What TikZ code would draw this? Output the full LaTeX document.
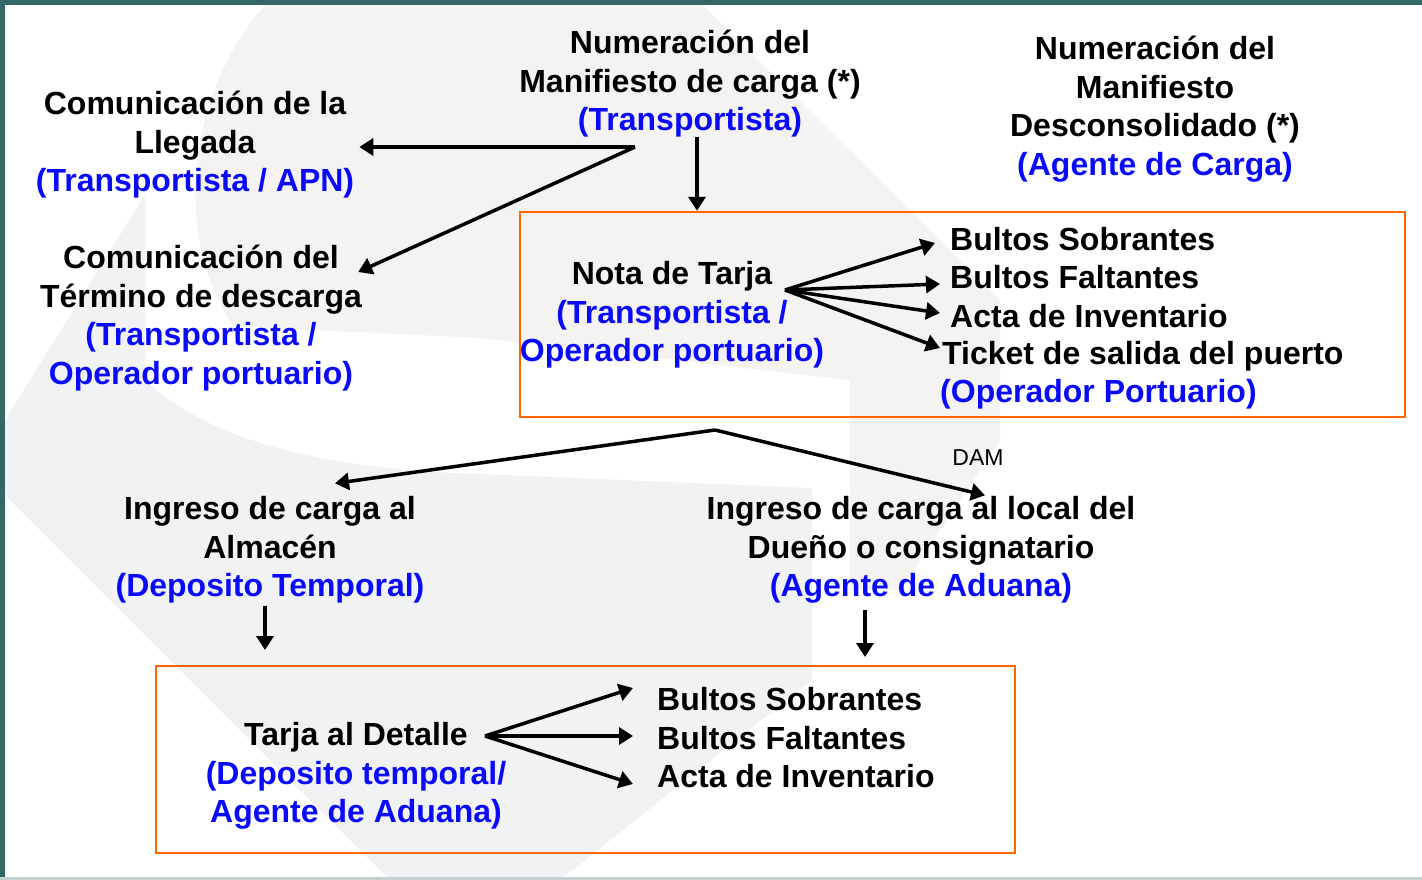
\documentclass[tikz,border=0pt]{standalone}
\usepackage{fontspec}
\setmainfont{Liberation Sans}
\usetikzlibrary{arrows.meta}
\definecolor{marco}{RGB}{52,104,104}
\definecolor{naranja}{RGB}{255,102,0}
\definecolor{quien}{RGB}{10,10,250}
\definecolor{fondo}{RGB}{245,242,242}
\definecolor{fondogris}{RGB}{241,242,244}
\tikzset{
paso/.style={font=\fontsize{32}{38.5}\selectfont\bfseries, align=center, inner sep=0pt},
lista/.style={font=\fontsize{32}{38.5}\selectfont\bfseries, anchor=west, inner sep=0pt},
caja/.style={draw=naranja, line width=2.5pt, inner sep=0pt},
flecha/.style={line width=3.5pt, -{Triangle[length=14pt,width=17pt]}}
}
\newcommand{\quien}[1]{\textcolor{quien}{#1}}

\begin{document}
\begin{tikzpicture}[x=1pt, y=-1pt]
	\useasboundingbox (0,0) rectangle (1422,880);
	% fondo y marco
	\fill[fondo] (265,5) -- (703,5) -- (1000,300) -- (1000,440) -- (900,590) -- (850,590)
		-- (850,380) -- (480,338) -- (233,326) .. controls (170,230) and (190,90) .. (265,5);
	\fill[fondogris] (145,195) -- (145,380) .. controls (220,450) and (350,470) .. (480,474)
		-- (812,488) -- (812,680) -- (560,880) -- (390,880) -- (5,495) -- (5,420) -- cycle;
	\fill[marco] (0,0) rectangle (1422,5);
	\fill[marco] (0,0) rectangle (5,880);
	\fill[marco!30] (0,877) rectangle (1422,880);

	% parte superior
	\node[paso] (manif) at (690,84) {Numeración del\\Manifiesto de carga (*)\\\quien{(Transportista)}};
	\node[paso] (descon) at (1155,109) {Numeración del\\Manifiesto\\Desconsolidado (*)\\\quien{(Agente de Carga)}};
	\node[paso] (llegada) at (195,145) {Comunicación de la\\Llegada\\\quien{(Transportista / APN)}};
	\node[paso] (termino) at (201,318) {Comunicación del\\Término de descarga\\\quien{(Transportista /}\\\quien{Operador portuario)}};
	\coordinate (abre) at (635,147);
	\draw[flecha] (abre) -- ([xshift=5pt,yshift=-2pt]llegada.east);
	\draw[flecha] (abre) -- ([xshift=-4pt,yshift=46pt]termino.east);

	% nota de tarja
	\node[caja, minimum width=885pt, minimum height=205pt] (caja1) at (962.5,314.5) {};
	\draw[flecha] ([xshift=7pt,yshift=-53pt]manif.center) -- ([xshift=7pt]manif.center |- caja1.north);
	\node[paso] (nota) at (672,315) {Nota de Tarja\\\quien{(Transportista /}\\\quien{Operador portuario)}};
	\node[lista] (sob1) at (950,239) {Bultos Sobrantes};
	\node[lista] (fal1) at (950,277) {Bultos Faltantes};
	\node[lista] (acta1) at (950,316) {Acta de Inventario};
	\node[lista] (tick) at (942,356) {Ticket de salida del puerto};
	\node[lista] (oper) at (940,394) {\quien{(Operador Portuario)}};
	\coordinate (abanico1) at (785,290);
	\draw[flecha] (abanico1) -- ([xshift=-15pt,yshift=-4pt]sob1.west);
	\draw[flecha] (abanico1) -- ([xshift=-10pt,yshift=-7pt]fal1.west);
	\draw[flecha] (abanico1) -- ([xshift=-10pt,yshift=3pt]acta1.west);
	\draw[flecha] (abanico1) -- ([xshift=-2pt,yshift=8pt]tick.west);

	% ingreso de carga
	\node[paso] (almacen) at (270,550) {Ingreso de carga al\\Almacén\\\quien{(Deposito Temporal)}};
	\node[paso] (local) at (921,550) {Ingreso de carga al local del\\Dueño o consignatario\\\quien{(Agente de Aduana)}};
	\node[font=\fontsize{23}{26}\selectfont] (dam) at (978,458) {DAM};
	\coordinate (pico) at (715,430);
	\draw[flecha] (pico) -- ([xshift=65pt,yshift=13pt]almacen.north);
	\draw[flecha] (pico) -- ([xshift=64pt,yshift=1pt]local.north);
	\coordinate (bajaA) at (265,650);
	\coordinate (bajaB) at (865,657);
	\draw[flecha] ([xshift=-5pt,yshift=-2pt]almacen.south) -- (bajaA);
	\draw[flecha] ([xshift=-56pt,yshift=-6pt]local.south) -- (bajaB);

	% tarja al detalle
	\node[caja, minimum width=859pt, minimum height=187pt] (caja2) at (585.5,759.5) {};
	\node[paso] (detalle) at (356,776) {Tarja al Detalle\\\quien{(Deposito temporal/}\\\quien{Agente de Aduana)}};
	\node[lista] (sob2) at (657,699) {Bultos Sobrantes};
	\node[lista] (fal2) at (657,738) {Bultos Faltantes};
	\node[lista] (acta2) at (657,776) {Acta de Inventario};
	\coordinate (abanico2) at (485,736);
	\draw[flecha] (abanico2) -- ([xshift=-24pt,yshift=11pt]sob2.west);
	\draw[flecha] (abanico2) -- ([xshift=-24pt,yshift=2pt]fal2.west);
	\draw[flecha] (abanico2) -- ([xshift=-24pt,yshift=-8pt]acta2.west);
\end{tikzpicture}
\end{document}
